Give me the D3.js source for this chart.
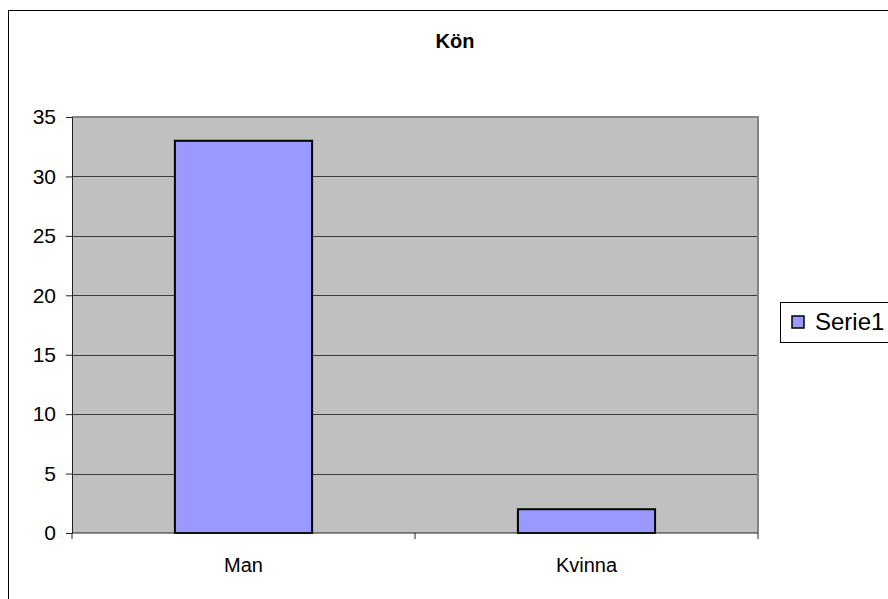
<!DOCTYPE html>
<html>
<head>
<meta charset="utf-8">
<script src="https://cdn.jsdelivr.net/npm/d3@7"></script>
<style>
  body { margin: 0; background: #fff; }
  text { font-family: "Liberation Sans", Arial, sans-serif; fill: #000; }
</style>
</head>
<body>
<svg id="chart"></svg>
<script>
// Data
const categories = ["Man", "Kvinna"];
const values = [33, 2];
const yTicks = [0, 5, 10, 15, 20, 25, 30, 35];
const seriesName = "Serie1";
const title = "Kön";

// Dimensions
const width = 888;
const height = 599;
const plot = { left: 72, right: 758, top: 117, bottom: 533 };

const svg = d3.select("#chart").attr("width", width).attr("height", height);

// Outer chart border (runs off the right and bottom edge)
svg.append("rect")
  .attr("x", 8.5).attr("y", 10.5)
  .attr("width", 1000).attr("height", 1000)
  .attr("fill", "#fff")
  .attr("stroke", "#000")
  .attr("stroke-width", 1);

// Scales
const xScale = d3.scaleBand()
  .domain(categories)
  .range([plot.left, plot.right])
  .paddingInner(0.6)
  .paddingOuter(0.3);

const xBand = d3.scaleBand().domain(categories).range([plot.left, plot.right]);

const yScale = d3.scaleLinear().domain([0, 35]).range([plot.bottom, plot.top]);

// Plot background
svg.append("rect")
  .attr("x", plot.left).attr("y", plot.top)
  .attr("width", plot.right - plot.left).attr("height", plot.bottom - plot.top)
  .attr("fill", "#c0c0c0");

// Gridlines
svg.append("g")
  .selectAll("line")
  .data(yTicks.filter((d) => d > 0 && d < 35))
  .enter()
  .append("line")
  .attr("x1", plot.left).attr("x2", plot.right)
  .attr("y1", (d) => Math.round(yScale(d)) + 0.5)
  .attr("y2", (d) => Math.round(yScale(d)) + 0.5)
  .attr("stroke", "#3a3a3a")
  .attr("stroke-width", 1);

// Plot border top/right (grey)
svg.append("path")
  .attr("d", `M${plot.left},${plot.top} H${plot.right} V${plot.bottom}`)
  .attr("fill", "none")
  .attr("stroke", "#858585")
  .attr("stroke-width", 2);

// Bars
svg.append("g")
  .selectAll("rect")
  .data(values)
  .enter()
  .append("rect")
  .attr("x", (d, i) => xScale(categories[i]))
  .attr("y", (d) => yScale(d))
  .attr("width", xScale.bandwidth())
  .attr("height", (d) => yScale(0) - yScale(d))
  .attr("fill", "#9999ff")
  .attr("stroke", "#000")
  .attr("stroke-width", 2);

// Y axis
const yAxis = d3.axisLeft(yScale).tickValues(yTicks).tickSize(6).tickPadding(10);
const yAxisGroup = svg.append("g")
  .attr("transform", `translate(${plot.left}, 0)`)
  .call(yAxis);
yAxisGroup.select(".domain").attr("stroke", "#222");
yAxisGroup.selectAll(".tick line").attr("stroke", "#222");
yAxisGroup.selectAll(".tick text")
  .attr("font-size", 21)
  .attr("font-family", "Liberation Sans, Arial, sans-serif")
  .attr("fill", "#000");

// X axis (ticks between categories)
const xAxisGroup = svg.append("g")
  .attr("transform", `translate(0, ${plot.bottom})`);
xAxisGroup.append("line")
  .attr("x1", plot.left).attr("x2", plot.right)
  .attr("y1", 0).attr("y2", 0)
  .attr("stroke", "#222");
xAxisGroup.selectAll("line.tk")
  .data([plot.left].concat(categories.map((c) => xBand(c) + xBand.bandwidth())))
  .enter()
  .append("line")
  .attr("class", "tk")
  .attr("x1", (d) => d).attr("x2", (d) => d)
  .attr("y1", 0).attr("y2", 6)
  .attr("stroke", "#222");
xAxisGroup.selectAll("text")
  .data(categories)
  .enter()
  .append("text")
  .attr("x", (d) => xBand(d) + xBand.bandwidth() / 2)
  .attr("y", 39)
  .attr("text-anchor", "middle")
  .attr("font-size", 20)
  .text((d) => d);

// Title
svg.append("text")
  .attr("x", 455)
  .attr("y", 48)
  .attr("text-anchor", "middle")
  .attr("font-size", 20)
  .attr("font-weight", "bold")
  .text(title);

// Legend
const legend = svg.append("g").attr("transform", "translate(780, 302)");
legend.append("rect")
  .attr("x", 0.5).attr("y", 0.5)
  .attr("width", 200).attr("height", 40)
  .attr("fill", "#fff")
  .attr("stroke", "#000");
legend.append("rect")
  .attr("x", 12).attr("y", 14)
  .attr("width", 12).attr("height", 12)
  .attr("fill", "#9999ff")
  .attr("stroke", "#000")
  .attr("stroke-width", 1.5);
legend.append("text")
  .attr("x", 35)
  .attr("y", 28)
  .attr("font-size", 24)
  .text(seriesName);
</script>
</body>
</html>
